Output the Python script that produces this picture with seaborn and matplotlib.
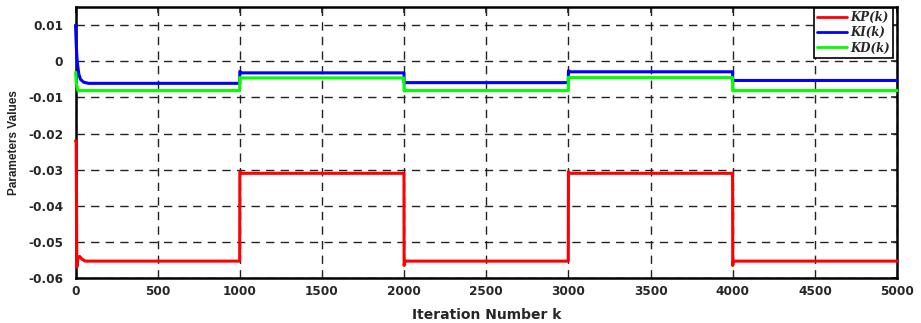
import matplotlib
matplotlib.use("Agg")
import matplotlib.pyplot as plt
import seaborn as sns
import pandas as pd
from matplotlib.ticker import FuncFormatter

# ---- data ----
kp_k = [0, 4, 8, 15, 25, 40, 60, 100, 999, 1000, 1003, 1010, 1999, 2000, 2003, 2010,
        2999, 3000, 3003, 3010, 3999, 4000, 4003, 4010, 5000]
kp_v = [-0.022, -0.022, -0.057, -0.0545, -0.054, -0.0548, -0.0553, -0.0553, -0.0553,
        -0.0307, -0.0307, -0.0310, -0.0310, -0.0565, -0.0555, -0.0553, -0.0553,
        -0.0305, -0.0308, -0.0310, -0.0310, -0.0565, -0.0555, -0.0553, -0.0553]

ki_k = [0, 5, 10, 20, 30, 50, 80, 999, 1000, 1010, 1999, 2000, 2010, 2999, 3000, 3010,
        3999, 4000, 4010, 5000]
ki_v = [0.010, 0.004, 0.0, -0.0035, -0.0050, -0.0058, -0.0061, -0.0061, -0.0028, -0.0032,
        -0.0032, -0.0061, -0.0059, -0.0059, -0.0026, -0.0029, -0.0029, -0.0055, -0.0053, -0.0053]

kd_k = [0, 5, 15, 30, 999, 1000, 1010, 1999, 2000, 2010, 2999, 3000, 3010, 3999, 4000, 4010, 5000]
kd_v = [-0.003, -0.006, -0.0082, -0.0081, -0.0081, -0.0045, -0.0046, -0.0046, -0.0082,
        -0.0081, -0.0081, -0.0044, -0.0045, -0.0045, -0.0082, -0.0081, -0.0081]

series_names = ["KP(k)", "KI(k)", "KD(k)"]
colors = ["#ff0000", "#0000ff", "#00ff00"]
x_ticks = list(range(0, 5001, 500))
y_ticks = [-0.06, -0.05, -0.04, -0.03, -0.02, -0.01, 0.0, 0.01]

frames = []
for name, ks, vs in zip(series_names, [kp_k, ki_k, kd_k], [kp_v, ki_v, kd_v]):
    frames.append(pd.DataFrame({"k": ks, "value": vs, "series": name}))
df = pd.concat(frames, ignore_index=True)

sns.set_style("white")
plt.rcParams["font.family"] = ["DejaVu Sans"]
plt.rcParams["axes.unicode_minus"] = False

fig = plt.figure(figsize=(9.21, 3.23), dpi=100)
ax = fig.add_axes([0.082, 0.139, 0.892, 0.839])

sns.lineplot(data=df, x="k", y="value", hue="series", hue_order=series_names,
             palette=colors, estimator=None, sort=False, linewidth=2.2, ax=ax,
             legend=True)
for ln in ax.lines:
    ln.set_clip_on(False)
    ln.set_zorder(5)

ax.set_xlim(0, 5000)
ax.set_ylim(-0.06, 0.015)
ax.set_xticks(x_ticks)
ax.set_yticks(y_ticks)
ax.yaxis.set_major_formatter(FuncFormatter(lambda v, p: "0" if abs(v) < 1e-12 else f"{v:g}"))

ax.grid(True, color="#222222", linestyle=(0, (6.0, 4.5)), linewidth=1.0)
ax.set_axisbelow(True)
for s in ax.spines.values():
    s.set_color("black")
    s.set_linewidth(1.8)
    s.set_zorder(4)
ax.tick_params(direction="in", length=4, width=1.2, top=True, right=True,
               labelsize=8.7)
ax.tick_params(axis="y", pad=9)
ax.tick_params(axis="x", pad=5)
for lab in ax.get_xticklabels() + ax.get_yticklabels():
    lab.set_fontweight("bold")

ax.set_xlabel("Iteration Number k", fontsize=10, fontweight="bold", labelpad=7)
ax.set_ylabel("Parameters Values", fontsize=8.5, fontweight="bold", labelpad=6,
              family="Liberation Sans")

handles, labels = ax.get_legend_handles_labels()
leg = ax.legend(handles, labels, loc="upper right", bbox_to_anchor=(0.995, 0.997),
                frameon=True, fancybox=False,
                edgecolor="black", framealpha=1, borderpad=0.25, labelspacing=0.2,
                handlelength=2.5, handletextpad=0.3, borderaxespad=0.0,
                prop={"family": "DejaVu Serif", "style": "italic",
                      "weight": "bold", "size": 8.5})
leg.get_frame().set_linewidth(1.2)
leg.set_zorder(10)
for line in leg.get_lines():
    line.set_linewidth(2.0)

fig.savefig("out.png", dpi=100)
